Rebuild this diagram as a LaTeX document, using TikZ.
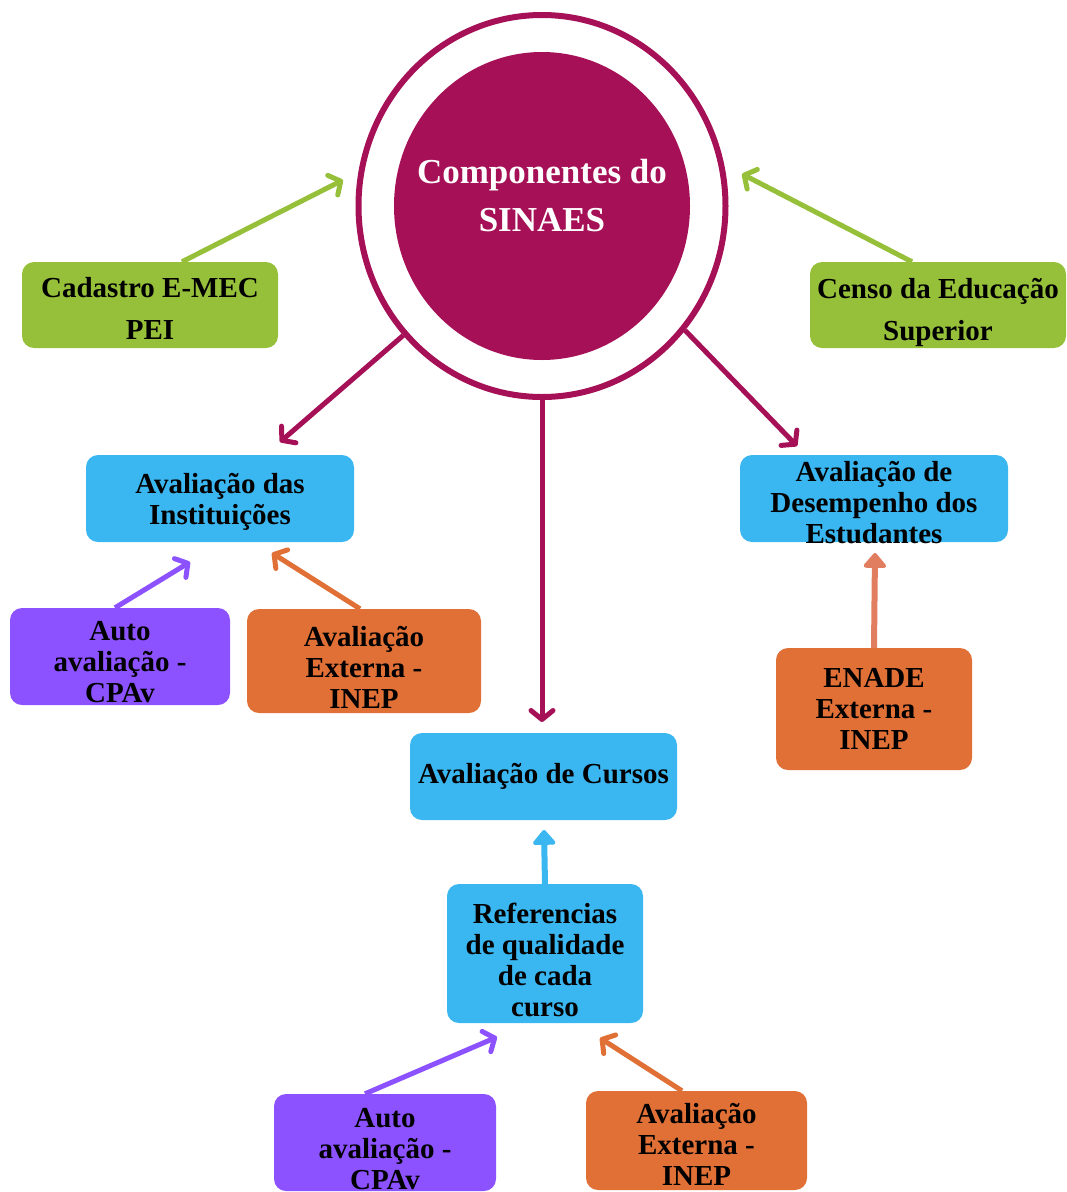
\documentclass[tikz,border=0pt]{standalone}
\usepackage{fontspec}
\setmainfont{Liberation Serif}
\usetikzlibrary{arrows.meta,calc,shapes.geometric}

\definecolor{sinaesmagenta}{RGB}{165,16,86}
\definecolor{sinaesgreen}{RGB}{151,192,58}
\definecolor{sinaesblue}{RGB}{58,182,240}
\definecolor{sinaespurple}{RGB}{140,82,255}
\definecolor{sinaesorange}{RGB}{225,112,55}
\definecolor{sinaessalmon}{RGB}{226,126,96}

\tikzset{
	caixa/.style={rounded corners=12pt, inner sep=0pt},
	caixaverde/.style={caixa, fill=sinaesgreen},
	caixaazul/.style={caixa, fill=sinaesblue},
	caixaroxa/.style={caixa, fill=sinaespurple},
	caixalaranja/.style={caixa, fill=sinaesorange},
	rotulo/.style={align=center, inner sep=0pt, text=black, font=\bfseries\fontsize{29}{31}\selectfont},
	rotuloverde/.style={rotulo, font=\bfseries\fontsize{29}{42}\selectfont},
	seta/.style={line width=5pt, -{Straight Barb[length=9pt,width=22pt,round]}},
	setacheia/.style={line width=6pt, -{Triangle[length=16pt,width=26pt,round]}},
}

\begin{document}
\begin{tikzpicture}[x=1pt,y=-1pt]
			%%%%% START %%%%%
			\useasboundingbox (0,0) rectangle (1067,1192);
			
			% centro
			\node[ellipse, draw=sinaesmagenta, line width=6pt, minimum width=367pt, minimum height=382pt] (hub) at (542,206) {};
			\node[ellipse, fill=sinaesmagenta, inner sep=0pt, minimum width=296pt, minimum height=308pt] (core) at (542,206) {};
			\node[align=center, text=white, font=\bfseries\fontsize{35}{48}\selectfont] (titulo) at (542,196) {Componentes do\\SINAES};
			
			% caixas
			\node[caixaverde, minimum width=256pt, minimum height=86pt,
				label={[rotuloverde, yshift=-3pt]center:Cadastro E-MEC\\PEI}] (emec) at (150,305) {};
			\node[caixaverde, minimum width=256pt, minimum height=86pt,
				label={[rotuloverde, yshift=-7pt]center:Censo da Educação\\Superior}] (censo) at (938,305) {};
			
			\node[caixaazul, minimum width=268pt, minimum height=87pt,
				label={[rotulo, yshift=-3.5pt]center:Avaliação das\\Instituições}] (inst) at (220,498.5) {};
			\node[caixaazul, minimum width=268pt, minimum height=87pt,
				label={[rotulo, yshift=-4pt]center:Avaliação de\\Desempenho dos\\Estudantes}] (desemp) at (874,498.5) {};
			
			\node[caixaroxa, minimum width=220pt, minimum height=97pt,
				label={[rotulo, yshift=-6pt]center:Auto\\avaliação -\\CPAv}] (auto1) at (120,656.5) {};
			\node[caixalaranja, minimum width=234pt, minimum height=104pt,
				label={[rotulo, yshift=-6pt]center:Avaliação\\Externa -\\INEP}] (ext1) at (364,661) {};
			
			\node[caixaazul, minimum width=267pt, minimum height=87pt,
				label={[rotulo]center:Avaliação de Cursos}] (cursos) at (543.5,776.5) {};
			\node[caixalaranja, minimum width=196pt, minimum height=122pt,
				label={[rotulo]center:ENADE\\Externa -\\INEP}] (enade) at (874,709) {};
			
			\node[caixaazul, minimum width=196pt, minimum height=139pt,
				label={[rotulo, yshift=-6.5pt]center:Referencias\\de qualidade\\de cada\\curso}] (ref) at (545,953.5) {};
			
			\node[caixaroxa, minimum width=222pt, minimum height=97pt,
				label={[rotulo, yshift=-7pt]center:Auto\\avaliação -\\CPAv}] (auto2) at (385,1142.5) {};
			\node[caixalaranja, minimum width=221pt, minimum height=99pt,
				label={[rotulo, yshift=-4pt]center:Avaliação\\Externa -\\INEP}] (ext2) at (696.5,1140.5) {};
			
			% pontas
			\coordinate (pemec) at (343,180);
			\coordinate (pcenso) at (742,174);
			\coordinate (pinst) at (280,442);
			\coordinate (pcursos) at (542,722);
			\coordinate (pdesemp) at (797,446);
			\coordinate (pauto1) at (190,562);
			\coordinate (pext1) at (272,553);
			\coordinate (penade) at (875,553);
			\coordinate (pref) at (544,830);
			\coordinate (pauto2) at (497,1037);
			\coordinate (pext2) at (600,1038);
			
			% setas
			\draw[seta, sinaesgreen] ($(emec.north)+(32,0)$) -- (pemec);
			\draw[seta, sinaesgreen] ($(censo.north)+(-26,0)$) -- (pcenso);
			
			\draw[seta, sinaesmagenta] (hub.223) -- (pinst);
			\draw[seta, sinaesmagenta] (hub.south) -- (pcursos);
			\draw[seta, sinaesmagenta] (hub.319) -- (pdesemp);
			
			\draw[seta, sinaespurple] ($(auto1.north)+(-5,0)$) -- (pauto1);
			\draw[seta, sinaesorange] ($(ext1.north)+(-4,0)$) -- (pext1);
			
			\draw[setacheia, sinaessalmon] (enade.north) -- (penade);
			\draw[setacheia, sinaesblue] (ref.north) -- (pref);
			
			\draw[seta, sinaespurple] ($(auto2.north)+(-20,0)$) -- (pauto2);
			\draw[seta, sinaesorange] ($(ext2.north)+(-14.5,0)$) -- (pext2);
			%%%%% END %%%%%
\end{tikzpicture}
\end{document}
